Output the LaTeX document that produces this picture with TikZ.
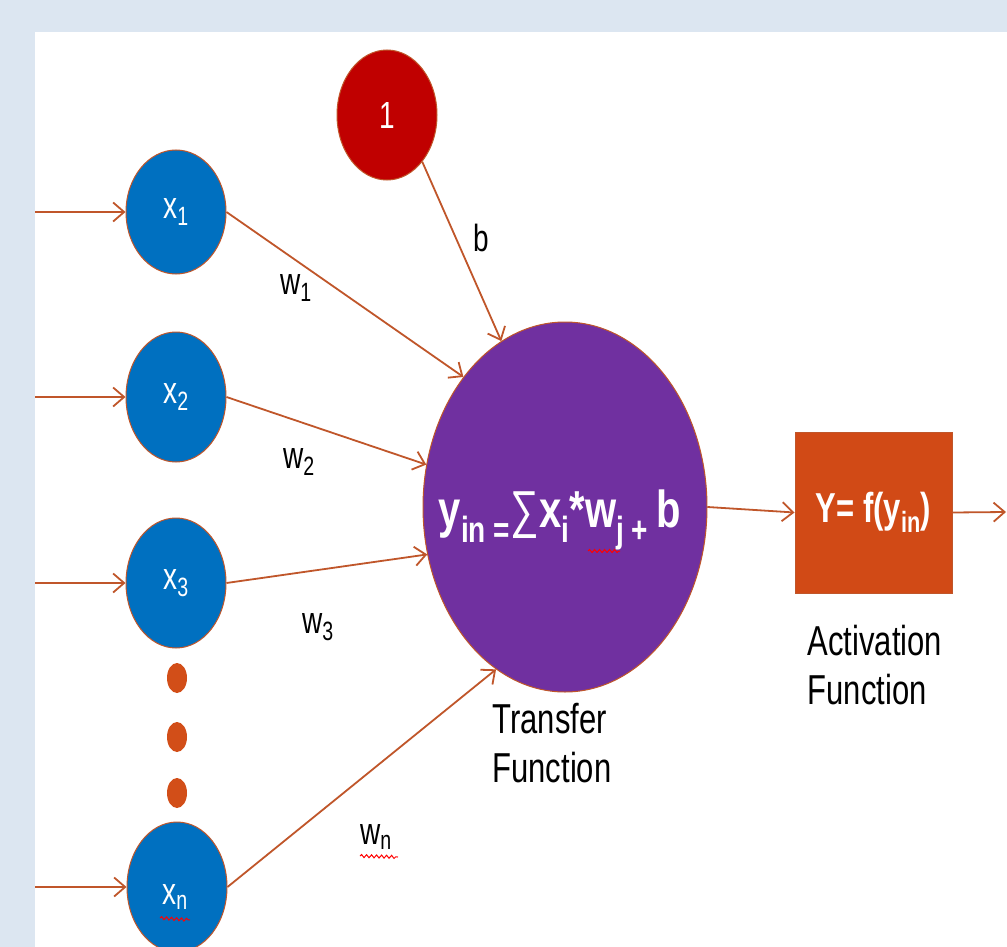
\documentclass[tikz,border=0pt]{standalone}
\usepackage{fontspec}
\setmainfont{Liberation Sans}
\usepackage{graphicx}
\usetikzlibrary{shapes.geometric,arrows.meta,decorations.pathmorphing}
\definecolor{bgblue}{HTML}{DCE6F1}
\definecolor{nblue}{HTML}{0070C0}
\definecolor{npurple}{HTML}{7030A0}
\definecolor{nred}{HTML}{C00000}
\definecolor{nbox}{RGB}{209,74,22}
\definecolor{dotc}{RGB}{210,78,24}
\definecolor{linec}{RGB}{192,86,42}
\newcommand{\vst}[1]{\scalebox{1}[1.35]{#1}}
\begin{document}
\begin{tikzpicture}[x=1pt,y=-1pt,
  inode/.style={ellipse, draw=linec, line width=1pt, fill=nblue, inner sep=0pt,
    minimum width=100pt, minimum height=130pt, text=white, font=\fontsize{28}{32}\selectfont},
  conn/.style={draw=linec, line width=1.8pt, -{Straight Barb[length=11pt,width=19pt]}},
  wlabel/.style={font=\fontsize{28}{32}\selectfont, text=black, inner sep=0pt},
  dotn/.style={ellipse, fill=dotc, inner sep=0pt, minimum width=20pt, minimum height=30pt},
  squig/.style={draw=red, line width=1pt, decorate, decoration={snake, amplitude=1.5pt, segment length=5pt}},
  captext/.style={font=\fontsize{31}{36}\selectfont, text=black, inner sep=0pt}
]
\clip (0,0) rectangle (1007,947);
\fill[bgblue] (0,0) rectangle (1007,947);
\fill[white] (35,32) rectangle (1007,947);

% input nodes
\node[inode, minimum height=124pt] (x1) at (176,212) {\vst{x\textsubscript{1}}};
\node[inode] (x2) at (176,397) {\vst{x\textsubscript{2}}};
\node[inode] (x3) at (176,583) {\vst{x\textsubscript{3}}};
\node[inode] (xn) at (177,887) {};
\node[text=white, inner sep=0pt, font=\fontsize{28}{32}\selectfont] (xnt) at (175,897) {\vst{x\textsubscript{n}}};
\node[dotn] (d1) at (177,678) {};
\node[dotn] (d2) at (177,737) {};
\node[dotn] (d3) at (177,793) {};

% bias node
\node[ellipse, draw=linec, line width=1pt, fill=nred, inner sep=0pt, minimum width=100pt,
  minimum height=130pt, text=white, font=\fontsize{28}{32}\selectfont] (one) at (387,115) {\vst{1}};

% transfer node
\node[ellipse, draw=linec, line width=1pt, fill=npurple, inner sep=0pt, minimum width=284pt,
  minimum height=370pt] (P) at (565,507) {};
\node[text=white, inner sep=0pt, font=\bfseries\fontsize{40}{44}\selectfont] (ptext) at (560,520)
  {\scalebox{1}[1.3]{y\textsubscript{in =}{\mdseries ∑}x\textsubscript{i}*w\textsubscript{j + }b}};

% activation box
\node[rectangle, draw=linec, line width=1pt, fill=nbox, minimum width=157pt, minimum height=161pt,
  text=white, font=\bfseries\fontsize{31}{34}\selectfont] (box) at (873.5,512.5)
  {\vst{Y= f(y\textsubscript{in})}};

% labels
\node[wlabel] (w1) at (296,288) {\vst{w\textsubscript{1}}};
\node[wlabel] (w2) at (299,462) {\vst{w\textsubscript{2}}};
\node[wlabel] (w3) at (318,627) {\vst{w\textsubscript{3}}};
\node[wlabel] (wn) at (376,837) {\vst{w\textsubscript{n}}};
\node[wlabel] (b) at (481,238) {\vst{b}};
\node[captext] (tf) at (552,748) {\vst{\begin{tabular}{@{}l@{}}Transfer\\Function\end{tabular}}};
\node[captext] (af) at (875,670) {\vst{\begin{tabular}{@{}l@{}}Activation\\Function\end{tabular}}};

% connectors
\coordinate (s1) at (35,212);
\coordinate (s2) at (35,397);
\coordinate (s3) at (35,583);
\coordinate (sn) at (35,887);
\coordinate (out) at (1006,512);
\draw[conn] (s1) -- (x1.west);
\draw[conn] (s2) -- (x2.west);
\draw[conn] (s3) -- (x3.west);
\draw[conn] (sn) -- (xn.west);
\draw[conn] (x1.east) -- (P.128);
\draw[conn] (x2.east) -- (P.163);
\draw[conn] (x3.east) -- (P.199);
\draw[conn] (xn.east) -- (P.247);
\draw[conn] (one.-53) -- (P.111);
\draw[conn] (P.east) -- (box.west);
\draw[conn] (box.east) -- (out);

% spelling squiggles
\draw[squig] (588,551) -- (620,551);
\draw[squig] (360,856) -- (398,857);
\draw[squig] (160,918) -- (190,920);
\end{tikzpicture}
\end{document}
